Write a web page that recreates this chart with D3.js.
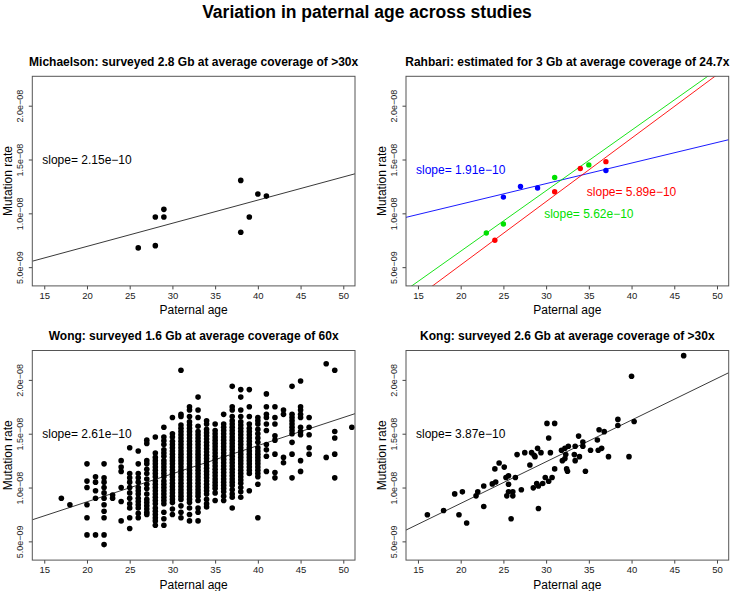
<!DOCTYPE html>
<html>
<head>
<meta charset="utf-8">
<script src="https://cdn.jsdelivr.net/npm/d3@7"></script>
<style>
  body { margin: 0; background: #fff; }
  text { font-family: "Liberation Sans", Arial, Helvetica, sans-serif; }
</style>
</head>
<body>
<script>
// ---- data (rates in units of 1e-9) ----
const xTicks = [15, 20, 25, 30, 35, 40, 45, 50];
const yTicks = [5, 10, 15, 20];
const yTickLabels = ["5.0e\u221209", "1.0e\u221208", "1.5e\u221208", "2.0e\u221208"];

const michaelsonAge  = [26, 28, 28, 29, 29, 38, 38, 39, 40, 41];
const michaelsonRate = [6.79, 7.0, 9.66, 9.66, 10.37, 13.06, 8.24, 9.66, 11.79, 11.6];

const rahbariBlueAge   = [25, 27, 29, 37];
const rahbariBlueRate  = [11.51, 12.5, 12.35, 13.98];
const rahbariRedAge    = [24, 31, 34, 37];
const rahbariRedRate   = [7.5, 12.0, 14.17, 14.8];
const rahbariGreenAge  = [23, 25, 31, 35];
const rahbariGreenRate = [8.18, 9.01, 13.33, 14.5];

const wongAge = [17, 18, 20, 21, 22, 23, 24, 25, 26, 27, 28, 29, 30, 31, 32, 33,
                 34, 35, 36, 37, 38, 39, 40, 41, 42, 43, 44, 45, 46, 48, 49, 51];
const wongRate = [
  [9.0],
  [8.4],
  [12.2, 10.6, 10.0, 8.4, 7.2, 5.6],
  [11.0, 10.5, 9.7, 9.0, 5.6],
  [12.2, 10.9, 10.5, 10.0, 9.5, 9.0, 8.4, 7.8, 7.2, 5.6, 4.7],
  [9.3, 9.0],
  [12.5, 11.9, 11.5, 10.0, 8.7, 6.9],
  [13.7, 11.3, 10.9, 10.5, 10.0, 9.5, 9.0, 8.5, 8.1, 7.2, 6.2],
  [13.4, 12.2, 11.3, 10.9, 10.5, 10.0, 9.7, 9.4, 9.0, 8.7, 8.4, 8.1, 7.6, 7.2],
  [14.4, 14.1, 12.5, 12.2, 11.7, 11.3, 10.8, 10.3, 9.9, 9.4, 8.9, 8.6, 8.3, 8.0, 7.7, 7.5],
  [14.7, 13.2, 12.8, 12.5, 12.2, 11.9, 11.6, 11.3, 11.0, 10.6, 10.3, 10.0, 9.7, 9.4, 9.1,
   8.8, 8.5, 8.1, 7.8, 7.5, 7.2, 6.9, 6.5],
  [15.6, 14.7, 14.35, 14.0, 13.5, 13.2, 12.9, 12.5, 12.2, 11.9, 11.6, 11.3, 11.0, 10.6,
   10.3, 10.0, 9.7, 9.4, 9.1, 8.8, 8.5, 7.7, 7.1, 6.5],
  [16.5, 15.0, 14.7, 14.3, 14.0, 13.7, 13.4, 13.1, 12.8, 12.5, 12.2, 11.9, 11.6, 11.3,
   11.0, 10.7, 10.4, 10.1, 9.8, 9.5, 9.2, 8.9, 8.6, 8.0, 7.5],
  [20.9, 16.8, 16.6, 15.8, 15.5, 15.2, 14.9, 14.6, 14.3, 14.0, 13.7, 13.4, 13.1, 12.8,
   12.5, 12.2, 11.9, 11.6, 11.3, 11.0, 10.7, 10.4, 10.1, 9.8, 9.5, 9.2, 8.9, 8.3, 7.7, 7.2],
  [17.5, 17.2, 16.6, 16.1, 15.8, 15.5, 15.2, 14.9, 14.6, 14.3, 14.0, 13.7, 13.4, 13.1,
   12.8, 12.5, 12.2, 11.9, 11.6, 11.3, 11.0, 10.7, 10.4, 10.1, 9.8, 9.5, 9.2, 8.9, 8.6,
   8.1, 7.5, 6.9],
  [18.4, 17.2, 16.5, 15.7, 15.2, 14.9, 14.6, 14.3, 14.0, 13.7, 13.4, 13.1, 12.8, 12.5,
   12.2, 11.9, 11.6, 11.3, 11.0, 10.7, 10.4, 10.1, 9.8, 9.5, 9.2, 8.8, 8.1, 7.7, 6.9],
  [16.2, 15.9, 15.4, 15.1, 14.8, 14.5, 14.2, 13.9, 13.6, 13.3, 13.0, 12.7, 12.4, 12.1,
   11.8, 11.5, 11.2, 10.9, 10.6, 10.3, 10.0, 9.7, 9.4, 8.9, 8.5, 8.2],
  [15.9, 15.3, 15.0, 14.7, 14.4, 14.1, 13.8, 13.5, 13.2, 12.9, 12.6, 12.3, 12.0, 11.7,
   11.4, 11.1, 10.8, 10.5, 10.2, 9.9, 9.5, 8.8],
  [16.8, 15.9, 15.6, 15.3, 15.0, 14.7, 14.4, 14.1, 13.8, 13.5, 13.2, 12.9, 12.6, 12.3,
   12.0, 11.7, 11.4, 11.1, 10.8, 10.5, 10.2, 9.9, 9.6, 9.2, 8.8],
  [19.4, 17.5, 17.2, 16.6, 16.2, 15.9, 15.6, 15.3, 15.0, 14.7, 14.4, 14.1, 13.8, 13.5,
   13.2, 12.9, 12.6, 12.3, 12.0, 11.7, 11.4, 11.1, 10.8, 10.5, 10.2, 9.8, 9.4, 9.1, 8.1],
  [19.1, 18.4, 17.2, 16.6, 16.1, 15.8, 15.5, 15.2, 14.9, 14.6, 14.3, 14.0, 13.7, 13.4,
   13.1, 12.8, 12.5, 12.2, 11.9, 11.6, 11.3, 11.0, 10.7, 10.4, 10.0, 9.6, 9.1],
  [19.1, 17.5, 16.6, 15.9, 15.5, 15.2, 14.9, 14.6, 14.3, 14.0, 13.7, 13.4, 13.1, 12.8,
   12.5, 12.2, 11.9, 11.6, 11.3, 9.7],
  [16.5, 16.2, 15.9, 15.4, 15.0, 14.6, 14.2, 13.7, 13.4, 13.1, 12.8, 12.5, 12.2, 11.9,
   11.6, 11.3, 11.0, 10.3, 7.2],
  [18.7, 17.5, 16.8, 16.5, 15.9, 15.3, 14.0, 13.5, 12.9, 11.5],
  [17.5, 16.5, 15.9, 14.8, 14.4, 13.1, 11.4, 10.9],
  [17.2, 16.8, 12.8, 12.3],
  [19.4, 16.8, 16.5, 16.2, 15.9, 15.6, 15.3, 15.0, 14.2, 13.1, 10.9],
  [19.9, 17.5, 17.2, 16.8, 16.5, 15.6, 15.2, 14.9, 12.5, 11.5],
  [16.5, 15.6, 14.9, 13.7, 13.1],
  [21.5, 12.8],
  [20.9, 15.2, 14.6, 13.1, 10.9],
  [15.6]
];

const kongAge = [16.1, 18.0, 19.3, 19.8, 20.2, 20.7, 21.8, 22.0, 22.7, 22.7, 23.7, 24.0, 24.1,
  24.5, 25.1, 25.3, 25.4, 25.6, 25.6, 25.6, 25.9, 26.1, 26.1, 26.4, 26.6, 27.1, 27.5, 28.1,
  28.3, 28.5, 28.6, 28.7, 28.9, 29.0, 29.1, 29.1, 29.4, 29.6, 29.9, 30.1, 30.3, 30.3, 30.5,
  30.7, 31.0, 31.0, 31.8, 31.9, 32.2, 32.2, 32.3, 32.4, 32.5, 32.6, 33.3, 33.4, 33.4, 33.8,
  33.9, 34.3, 34.3, 34.6, 35.2, 36.0, 36.1, 36.2, 36.5, 36.8, 37.3, 38.4, 38.4, 39.7, 40.0,
  40.3, 46.1];
const kongRate = [7.47, 7.87, 9.41, 7.47, 9.6, 6.7, 9.23, 9.6, 10.15, 8.24, 10.34, 11.73, 10.52,
  12.28, 11.9, 10.93, 9.23, 11.1, 10.3, 9.6, 7.1, 9.6, 9.23, 10.93, 13.06, 9.8, 13.24, 12.1,
  13.24, 9.97, 13.0, 12.87, 10.37, 13.64, 8.06, 10.15, 13.24, 10.37, 10.93, 15.96, 14.6, 10.59,
  13.24, 10.93, 15.96, 11.73, 13.46, 12.5, 13.64, 12.69, 13.06, 11.73, 11.51, 13.83, 13.06,
  13.83, 12.5, 14.78, 12.87, 13.83, 14.23, 11.51, 13.46, 14.41, 13.46, 15.37, 13.64, 15.19,
  12.87, 16.33, 15.77, 12.87, 20.34, 16.14, 22.25];

// fitted lines: intercept at age 0 and slope (1e-9 units)
const fitIntercept = { michaelson: 2.63, blue: 7.03, red: -6.58, green: -4.76, wong: 3.455, kong: 0.785 };
const fitSlope     = { michaelson: 0.215, blue: 0.191, red: 0.589, green: 0.562, wong: 0.261, kong: 0.387 };

const titles = [
  "Michaelson: surveyed 2.8 Gb at average coverage of >30x",
  "Rahbari: estimated for 3 Gb at average coverage of 24.7x",
  "Wong: surveyed 1.6 Gb at average coverage of 60x",
  "Kong: surveyed 2.6 Gb at average coverage of >30x"
];

// ---- layout ----
const W = 731, H = 591;
const svg = d3.select("body").append("svg").attr("width", W).attr("height", H);

svg.append("text")
  .attr("x", 367).attr("y", 17.5)
  .attr("text-anchor", "middle")
  .style("font-weight", "bold").style("font-size", "17.5px")
  .text("Variation in paternal age across studies");

const boxes = [
  { left: 32.3, top: 76.3 },
  { left: 406,  top: 76.3 },
  { left: 32.3, top: 350.5 },
  { left: 406,  top: 350.5 }
];
const boxW = 322.7, boxH = 209.6;

function drawPanel(i, series, lines, labels) {
  const b = boxes[i];
  const x = d3.scaleLinear().domain([13.6, 51.37]).range([b.left, b.left + boxW]);
  const y = d3.scaleLinear().domain([3.26, 22.73]).range([b.top + boxH, b.top]);

  const g = svg.append("g");
  const clipId = "clip" + i;
  g.append("clipPath").attr("id", clipId)
    .append("rect").attr("x", b.left).attr("y", b.top).attr("width", boxW).attr("height", boxH);

  // title
  g.append("text")
    .attr("x", b.left + boxW / 2).attr("y", b.top - 10.5)
    .attr("text-anchor", "middle")
    .style("font-weight", "bold").style("font-size", "12px")
    .text(titles[i]);

  // x axis
  const xa = g.append("g").attr("transform", `translate(0,${b.top + boxH})`)
    .call(d3.axisBottom(x).tickValues(xTicks).tickSize(3.5).tickPadding(3));
  xa.select(".domain").remove();
  xa.selectAll("line").attr("stroke", "#444");
  xa.selectAll("text").style("font-size", "9.5px").attr("fill", "#222")
    .style("font-family", '"Liberation Sans", Arial, sans-serif');

  // y axis
  const ya = g.append("g").attr("transform", `translate(${b.left},0)`)
    .call(d3.axisLeft(y).tickValues(yTicks).tickSize(3.5).tickFormat((d, k) => yTickLabels[k]));
  ya.select(".domain").remove();
  ya.selectAll("line").attr("stroke", "#444");
  ya.selectAll("text")
    .attr("x", null).attr("dy", null)
    .attr("text-anchor", "middle")
    .attr("transform", "translate(-9.5,0) rotate(-90)")
    .style("font-size", "9px").attr("fill", "#222")
    .style("font-family", '"Liberation Sans", Arial, sans-serif');

  // axis titles
  g.append("text")
    .attr("x", b.left + boxW / 2).attr("y", b.top + boxH + 28.5)
    .attr("text-anchor", "middle").style("font-size", "12px")
    .text("Paternal age");
  g.append("text")
    .attr("transform", `translate(${b.left - 20.5},${b.top + boxH / 2}) rotate(-90)`)
    .attr("text-anchor", "middle").style("font-size", "12px")
    .text("Mutation rate");

  const plot = g.append("g").attr("clip-path", `url(#${clipId})`);

  lines.forEach(l => {
    const x0 = x.domain()[0], x1 = x.domain()[1];
    plot.append("line")
      .attr("x1", x(x0)).attr("y1", y(l.a + l.b * x0))
      .attr("x2", x(x1)).attr("y2", y(l.a + l.b * x1))
      .attr("stroke", l.color).attr("stroke-width", 0.9);
  });

  series.forEach(s => {
    plot.selectAll(null)
      .data(d3.zip(s.age, s.rate))
      .enter().append("circle")
      .attr("cx", d => x(d[0]))
      .attr("cy", d => y(d[1]))
      .attr("r", s.r || 2.8)
      .attr("fill", s.color);
  });

  labels.forEach(t => {
    g.append("text")
      .attr("x", x(t.x)).attr("y", y(t.y)).attr("dy", "0.35em")
      .attr("text-anchor", "middle").style("font-size", "12px")
      .attr("fill", t.color)
      .text(t.text);
  });

  // box
  g.append("rect")
    .attr("x", b.left).attr("y", b.top).attr("width", boxW).attr("height", boxH)
    .attr("fill", "none").attr("stroke", "#555").attr("stroke-width", 1);
}

const green = "#00e000";

drawPanel(0,
  [{ age: michaelsonAge, rate: michaelsonRate, color: "#000" }],
  [{ a: fitIntercept.michaelson, b: fitSlope.michaelson, color: "#222" }],
  [{ x: 20, y: 15, text: "slope= 2.15e\u221210", color: "#000" }]);

drawPanel(1,
  [{ age: rahbariBlueAge, rate: rahbariBlueRate, color: "#0000ff", r: 2.7 },
   { age: rahbariRedAge, rate: rahbariRedRate, color: "#ff0000", r: 2.7 },
   { age: rahbariGreenAge, rate: rahbariGreenRate, color: green, r: 2.7 }],
  [{ a: fitIntercept.blue, b: fitSlope.blue, color: "#0000ff" },
   { a: fitIntercept.red, b: fitSlope.red, color: "#ff0000" },
   { a: fitIntercept.green, b: fitSlope.green, color: green }],
  [{ x: 20, y: 14, text: "slope= 1.91e\u221210", color: "#0000ff" },
   { x: 40, y: 12, text: "slope= 5.89e\u221210", color: "#ff0000" },
   { x: 35, y: 10, text: "slope= 5.62e\u221210", color: green }]);

const wongFlatAge = [], wongFlatRate = [];
wongAge.forEach((a, k) => wongRate[k].forEach(r => { wongFlatAge.push(a); wongFlatRate.push(r); }));

drawPanel(2,
  [{ age: wongFlatAge, rate: wongFlatRate, color: "#000" }],
  [{ a: fitIntercept.wong, b: fitSlope.wong, color: "#222" }],
  [{ x: 20, y: 15, text: "slope= 2.61e\u221210", color: "#000" }]);

drawPanel(3,
  [{ age: kongAge, rate: kongRate, color: "#000" }],
  [{ a: fitIntercept.kong, b: fitSlope.kong, color: "#222" }],
  [{ x: 20, y: 15, text: "slope= 3.87e\u221210", color: "#000" }]);
</script>
</body>
</html>
